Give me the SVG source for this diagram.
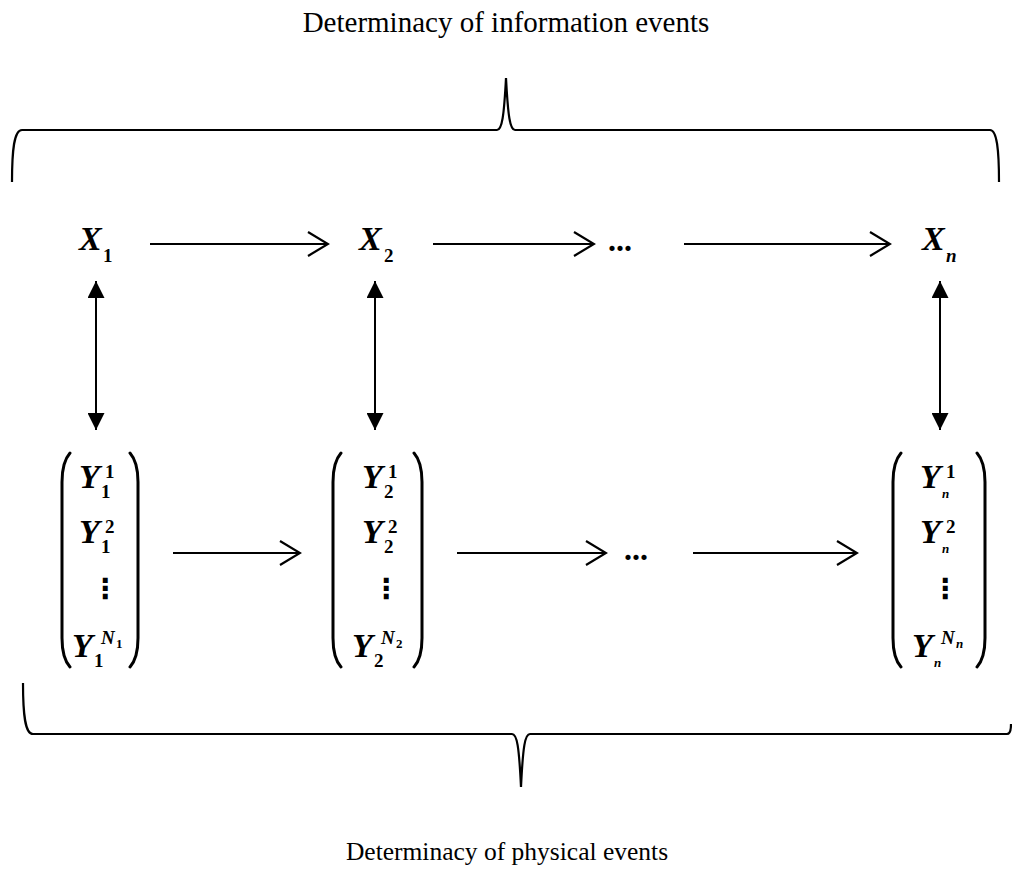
<svg xmlns="http://www.w3.org/2000/svg" width="1012" height="877" viewBox="0 0 1012 877">
<style>
.cap{font-family:"Liberation Serif","Times New Roman",serif;fill:#000;text-anchor:middle}
.m{font-family:"Liberation Serif","Times New Roman",serif;font-weight:bold;fill:#000}
.mi{font-style:italic}
.big{font-size:34px}
.sm{font-size:19px}
.xs{font-size:13px}
.ln{stroke:#000;stroke-width:2;fill:none}
.br{stroke:#000;stroke-width:2.2;fill:none}
.par{stroke:#000;stroke-width:3;fill:none;stroke-linecap:round}
.vd{font-family:"DejaVu Sans",sans-serif;font-weight:bold;font-size:28px;fill:#000}
.hd{font-family:"Liberation Serif","Times New Roman",serif;font-weight:bold;font-size:32px;fill:#000}
</style>
<defs>
<marker id="open" viewBox="0 0 23 26" refX="21" refY="13" markerWidth="23" markerHeight="26" markerUnits="userSpaceOnUse" orient="auto">
<path d="M1,1 L21,13 L1,25" fill="none" stroke="#000" stroke-width="2.2"/>
</marker>
<marker id="tri" viewBox="0 0 17 17" refX="17" refY="8.5" markerWidth="17" markerHeight="17" markerUnits="userSpaceOnUse" orient="auto-start-reverse">
<path d="M0,0 L17,8.5 L0,17 Z" fill="#000"/>
</marker>
</defs>
<rect width="1012" height="877" fill="#fff"/>

<g id="caption-top"><text class="cap" style="font-size:29px" x="506" y="32">Determinacy of information events</text></g>
<g id="caption-bottom"><text class="cap" style="font-size:25.5px" x="507" y="860">Determinacy of physical events</text></g>

<g id="brace-top"><path class="br" d="M12 182 C12 150 14 130 22 130 L497 130 C502 130 504 116 506 78 C508 116 510 130 515 130 L990 130 C997 130 999 150 999 182"/></g>
<g id="brace-bottom"><path class="br" d="M23 683 C23 715 25 734 33 734 L512 734 C517 734 519 746 521 787 C523 746 525 734 530 734 L1007 734 C1010 734 1011 730 1011 724"/></g>

<g id="X1"><text class="m mi big" x="79" y="250">X</text><text class="m sm" x="103" y="262">1</text></g>
<g id="X2"><text class="m mi big" x="359" y="250">X</text><text class="m sm" x="384" y="262">2</text></g>
<g id="dots-top"><text class="hd" x="608" y="251">...</text></g>
<g id="Xn"><text class="m mi big" x="922" y="250">X</text><text class="m mi sm" x="946" y="262">n</text></g>

<g id="Y1">
<path class="par" d="M70 453 Q62 462 62 482 L62 638 Q62 658 70 667"/>
<path class="par" d="M130 453 Q138 462 138 482 L138 638 Q138 658 130 667"/>
<text class="m mi big" x="79" y="488">Y</text><text class="m sm" x="105" y="478">1</text><text class="m sm" x="101" y="498">1</text>
<text class="m mi big" x="79" y="543">Y</text><text class="m sm" x="105" y="533">2</text><text class="m sm" x="101" y="553">1</text>
<text class="vd" x="91" y="598">⋮</text>
<text class="m mi big" x="72" y="657">Y</text><text class="m mi sm" x="101" y="644">N</text><text class="m xs" x="116" y="648">1</text><text class="m sm" x="94" y="667">1</text>
</g>

<g id="Y2">
<path class="par" d="M341 453 Q333 462 333 482 L333 638 Q333 658 341 667"/>
<path class="par" d="M414 453 Q422 462 422 482 L422 638 Q422 658 414 667"/>
<text class="m mi big" x="362" y="488">Y</text><text class="m sm" x="388" y="478">1</text><text class="m sm" x="384" y="498">2</text>
<text class="m mi big" x="362" y="543">Y</text><text class="m sm" x="388" y="533">2</text><text class="m sm" x="384" y="553">2</text>
<text class="vd" x="372" y="598">⋮</text>
<text class="m mi big" x="352" y="657">Y</text><text class="m mi sm" x="381" y="644">N</text><text class="m xs" x="396" y="648">2</text><text class="m sm" x="374" y="667">2</text>
</g>

<g id="Yn">
<path class="par" d="M901 453 Q893 462 893 482 L893 638 Q893 658 901 667"/>
<path class="par" d="M977 453 Q985 462 985 482 L985 638 Q985 658 977 667"/>
<text class="m mi big" x="920" y="488">Y</text><text class="m sm" x="946" y="478">1</text><text class="m mi xs" x="942" y="498">n</text>
<text class="m mi big" x="920" y="543">Y</text><text class="m sm" x="946" y="533">2</text><text class="m mi xs" x="942" y="553">n</text>
<text class="vd" x="931" y="598">⋮</text>
<text class="m mi big" x="912" y="657">Y</text><text class="m mi sm" x="941" y="644">N</text><text class="m mi xs" x="956" y="648">n</text><text class="m mi xs" x="934" y="667">n</text>
</g>

<g id="dots-bottom"><text class="hd" x="624" y="560">...</text></g>

<g id="connectors">
<line class="ln" x1="150" y1="244" x2="328" y2="244" marker-end="url(#open)"/>
<line class="ln" x1="433" y1="244" x2="594" y2="244" marker-end="url(#open)"/>
<line class="ln" x1="684" y1="244" x2="890" y2="244" marker-end="url(#open)"/>
<line class="ln" x1="96" y1="281" x2="96" y2="430" marker-start="url(#tri)" marker-end="url(#tri)"/>
<line class="ln" x1="375" y1="281" x2="375" y2="430" marker-start="url(#tri)" marker-end="url(#tri)"/>
<line class="ln" x1="940" y1="281" x2="940" y2="430" marker-start="url(#tri)" marker-end="url(#tri)"/>
<line class="ln" x1="173" y1="553" x2="300" y2="553" marker-end="url(#open)"/>
<line class="ln" x1="457" y1="553" x2="606" y2="553" marker-end="url(#open)"/>
<line class="ln" x1="693" y1="553" x2="857" y2="553" marker-end="url(#open)"/>
</g>
</svg>
